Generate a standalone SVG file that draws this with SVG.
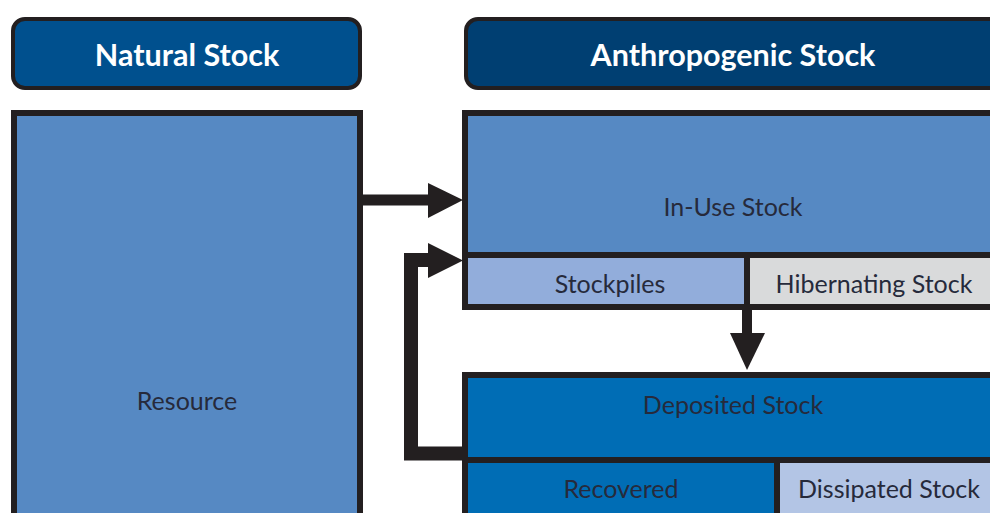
<svg xmlns="http://www.w3.org/2000/svg" width="990" height="513" viewBox="0 0 990 513">
<style>
.hdr{stroke:#231F20;stroke-width:4}
.box{stroke:#231F20;stroke-width:6}
.ht{font-family:Lato,"Open Sans",sans-serif;font-weight:bold;font-size:30.5px;fill:#FFFFFF;text-anchor:middle;dominant-baseline:central}
.bt{font-family:Lato,"Open Sans",sans-serif;font-size:25px;fill:#262A3B;text-anchor:middle;dominant-baseline:central}
.conn{fill:none;stroke:#231F20;stroke-linejoin:miter}
.head{fill:#231F20}
</style>
<rect width="990" height="513" fill="#FFFFFF"/>
<g id="natural-stock-header">
<rect class="hdr" x="13" y="19" width="347" height="69" rx="12" fill="#00508E"/>
<text class="ht" x="187" y="54">Natural Stock</text>
</g>
<g id="anthropogenic-stock-header">
<rect class="hdr" x="466" y="19" width="560" height="69" rx="12" fill="#003F72"/>
<text class="ht" x="733" y="54">Anthropogenic Stock</text>
</g>
<g id="resource">
<rect class="box" x="14" y="113" width="346" height="430" fill="#5689C3"/>
<text class="bt" x="187" y="400">Resource</text>
</g>
<g id="in-use-stock">
<rect class="box" x="465" y="113" width="560" height="142" fill="#5689C3"/>
<text class="bt" x="733" y="206">In-Use Stock</text>
</g>
<g id="stockpiles">
<rect class="box" x="465" y="255" width="282" height="52" fill="#92ADDB"/>
<text class="bt" x="610" y="283">Stockpiles</text>
</g>
<g id="hibernating-stock">
<rect class="box" x="747" y="255" width="280" height="52" fill="#D9DADB"/>
<text class="bt" x="874" y="283">Hibernating Stock</text>
</g>
<g id="deposited-stock">
<rect class="box" x="465" y="375" width="560" height="85" fill="#006DB5"/>
<text class="bt" x="733" y="404">Deposited Stock</text>
</g>
<g id="recovered">
<rect class="box" x="465" y="460" width="312" height="80" fill="#006DB5"/>
<text class="bt" x="621" y="488">Recovered</text>
</g>
<g id="dissipated-stock">
<rect class="box" x="777" y="460" width="250" height="80" fill="#B3C5E5"/>
<text class="bt" x="889" y="488">Dissipated Stock</text>
</g>
<g id="connectors">
<line class="conn" x1="362" y1="200" x2="432" y2="200" stroke-width="11"/>
<polygon class="head" points="428,183 463,200 428,218"/>
<path class="conn" d="M465,453.5 H411 V260 H432" stroke-width="14"/>
<polygon class="head" points="428,243 463,260.5 428,278"/>
<line class="conn" x1="747" y1="307" x2="747" y2="337" stroke-width="10"/>
<polygon class="head" points="730,333 765,333 747,370"/>
</g>
</svg>
